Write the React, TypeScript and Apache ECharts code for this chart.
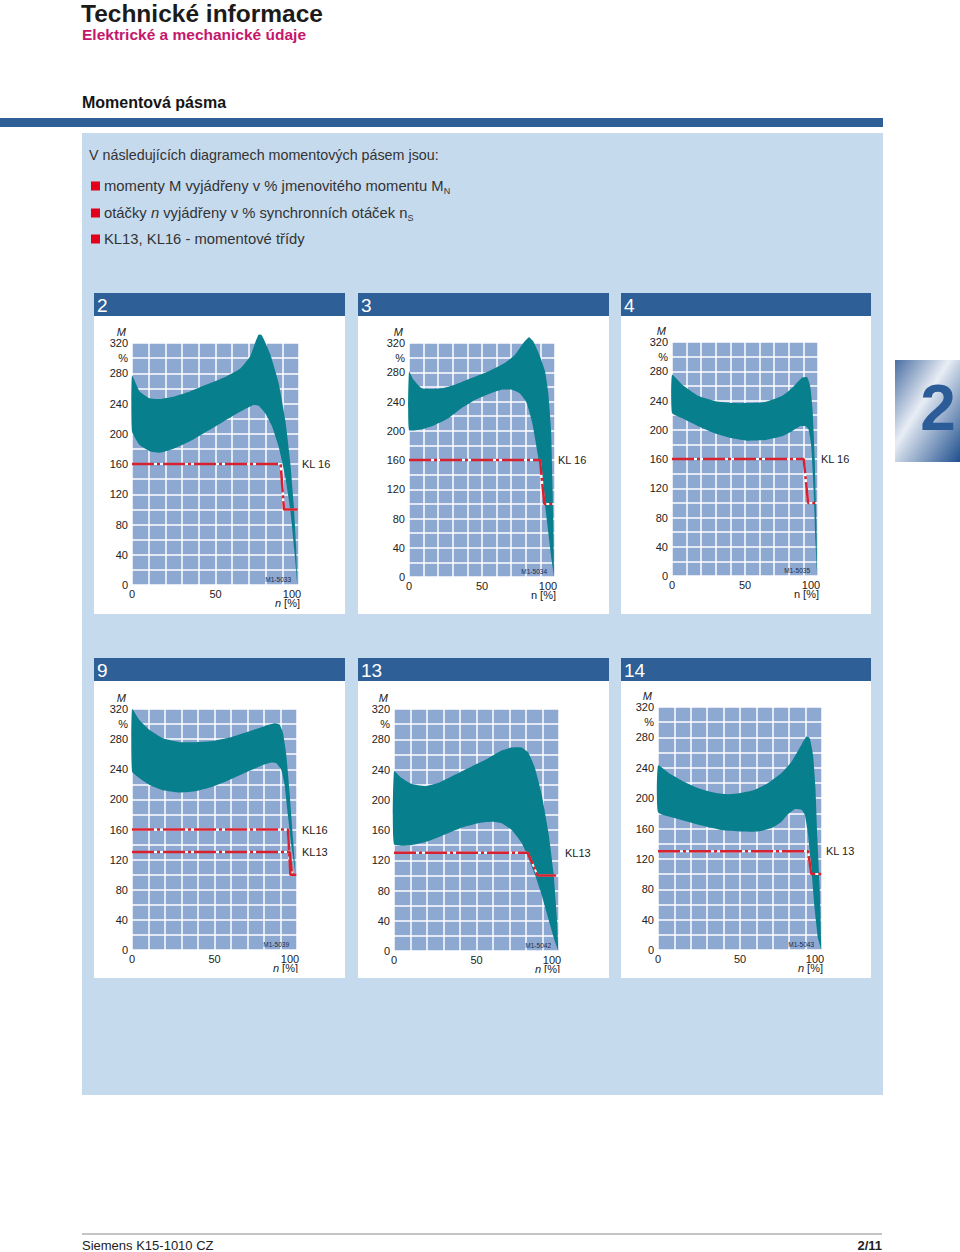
import React, { useEffect, useRef } from "react";
import * as echarts from "echarts";

const FONT = "'Liberation Sans', Arial, Helvetica, sans-serif";
const TEAL = "#087f8d";
const RED = "#d8202f";
const PLOT_BG = "#8da8d1";
const DARK_BLUE = "#2e5f96";
const LIGHT_BLUE = "#c6daee";
const TEXT = "#222222";

// ---- texts ----
const pageTitle = "Technické informace";
const pageSubtitle = "Elektrické a mechanické údaje";
const sectionTitle = "Momentová pásma";
const introLine = "V následujících diagramech momentových pásem jsou:";
const bulletLines = [
  "momenty M vyjádřeny v % jmenovitého momentu M{sub|N}",
  "otáčky {i|n} vyjádřeny v % synchronních otáček n{sub|S}",
  "KL13, KL16 - momentové třídy",
];
const footerLeft = "Siemens K15-1010 CZ";
const footerRight = "2/11";
const chapterNo = "2";

// ---- axis ticks ----
const yTickLabels = [0, 40, 80, 120, 160, 200, 240, 280, 320];
const yUnitAt = 300;
const xTickLabels = [0, 50, 100];

// ---- curves: [n %, M %] ----
const c2Upper = [[0,277],[4.6,256],[10.6,247],[16.6,246],[24.6,249],[34.7,256],[44.7,265],[54.7,274],[64.7,286],[70.7,302],[73.7,320],[75.8,331],[77.8,330],[82.8,305],[87.8,267],[91.8,218],[94.8,161],[96.8,108],[98.2,55],[99,0]];
const c2Lower = [[0,203],[4.6,185],[10.6,177],[16.6,175],[24.6,180],[34.7,190],[44.7,203],[54.7,216],[64.7,229],[72.7,238],[75.8,237],[79.8,227],[83.8,210],[87.8,183],[91.8,143],[94.8,99],[97.2,46],[99,0]];
const c2KL16 = [[0,160],[89,160],[91,100],[100,100]];

const c3Upper = [[0,281],[3,270],[8.7,258],[15.5,257],[22.4,258],[31.5,263],[42.9,272],[54.3,281],[65.8,293],[72.6,304],[78.3,320],[82.2,328],[85.2,322],[89.7,302],[93.2,281],[95.4,251],[97.3,201],[98.4,119],[99.1,37],[99.3,0]];
const c3Lower = [[0,201],[8.7,202],[17.8,208],[26.9,217],[36.1,231],[45.2,242],[54.3,250],[63.5,256],[70.3,256],[76,251],[80.6,238],[84.5,210],[88.1,169],[91.3,128],[94.7,73],[97.7,23],[99.3,0]];
const c3KL16 = [[0,160],[89.7,160],[92.7,100],[100,100]];

const c4Upper = [[0,275],[6.8,262],[18.3,246],[29.7,239],[41.1,236.5],[52.5,236.5],[63.9,238],[75.3,246],[82.2,257],[89,271],[92.5,272],[94.7,259],[96.3,227],[97.7,163],[98.9,72],[99.5,0]];
const c4Lower = [[0,223],[6.8,216],[18.3,204.5],[29.7,195],[41.1,188.5],[52.5,185],[63.9,186],[75.3,191],[82.2,198],[87.9,205],[91.3,205],[93.6,200],[95.4,177],[97,118],[98.2,49],[99.5,0]];
const c4KL16 = [[0,160],[90.2,160],[93.2,100],[100,100]];

const c9Upper = [[0,320],[4.6,305],[10.7,292],[18.8,281],[28.9,276],[39,276],[49.1,277.5],[59.2,282],[69.3,289],[79.4,296.5],[86.5,301],[89.5,299],[91.5,288],[93.5,259],[95.6,206],[97.6,148],[99.2,100]];
const c9Lower = [[0,237],[4.6,228],[10.7,219],[18.8,212],[28.9,209],[39,211],[49.1,217],[59.2,226],[69.3,236],[79.4,245.6],[84.4,249],[87.5,248],[90.5,239],[92.5,219],[94.5,179],[96.6,139],[99.2,100]];
const c9KL16 = [[0,160],[94.5,160],[96,100],[99.6,100]];
const c9KL13 = [[0,130],[95.6,130],[97,100],[99.6,100]];

const c13Upper = [[0,238],[4.5,229],[10.5,221],[18.6,218],[26.7,222],[36.8,233],[47,244],[57.1,255],[65.2,265],[71.3,269],[77.3,269],[81.4,262],[85.4,242],[89.5,207],[93.5,158],[96.6,105],[98.6,48],[99.6,0]];
const c13Lower = [[0,141],[10.5,140],[20.6,145],[30.8,154],[40.9,163],[51,169],[59.1,171],[65.2,169],[71.3,160],[77.3,143],[81.4,123],[85.4,101],[89.5,74],[93.5,43],[97.6,12],[99.6,0]];
const c13KL13 = [[0,130],[81,130],[87,100],[100,100]];

const c14Upper = [[0,243],[6.5,233],[14.6,223],[24.7,213],[34.8,207],[42.9,205],[51,207],[59.1,211],[67.2,220],[75.3,233],[81.4,248],[87.4,270],[90.5,281],[92.5,279],[94.5,257],[96,213],[97.2,147],[98.6,81],[99.6,0]];
const c14Lower = [[0,181.5],[10.5,173.6],[24.7,165],[38.9,158],[51,156],[61.1,156],[69.2,160.5],[75.3,169],[79.4,179],[83.4,185.5],[87.4,184.6],[89.5,178],[91.5,152],[93.5,108],[95.5,55],[97.6,15],[99.6,0]];
const c14KL13 = [[0,130],[91.5,130],[93.5,100],[100,100]];

const chartNumbers = ["2", "3", "4", "9", "13", "14"];
const chartCodes = ["M1-5033", "M1-5034", "M1-5035", "M1-5039", "M1-5042", "M1-5043"];
const chartItalicN = [true, false, false, true, true, true];
const chartUpper = [c2Upper, c3Upper, c4Upper, c9Upper, c13Upper, c14Upper];
const chartLower = [c2Lower, c3Lower, c4Lower, c9Lower, c13Lower, c14Lower];
const chartKL = [
  [{ name: "KL 16", level: 160, line: c2KL16 }],
  [{ name: "KL 16", level: 160, line: c3KL16 }],
  [{ name: "KL 16", level: 160, line: c4KL16 }],
  [{ name: "KL16", level: 160, line: c9KL16 }, { name: "KL13", level: 130, line: c9KL13 }],
  [{ name: "KL13", level: 130, line: c13KL13 }],
  [{ name: "KL 13", level: 130, line: c14KL13 }],
];

// ---- layout (pixels) ----
const layout = [
  { px: 94, py: 293, pw: 251, ph: 321, gl: 132, gt: 343, gw: 167, gh: 242, klGap: 3 },
  { px: 358, py: 293, pw: 251, ph: 321, gl: 409, gt: 343, gw: 146, gh: 234, klGap: 3 },
  { px: 621, py: 293, pw: 250, ph: 321, gl: 672, gt: 342, gw: 146, gh: 234, klGap: 3 },
  { px: 94, py: 658, pw: 251, ph: 320, gl: 132, gt: 709, gw: 165, gh: 241, klGap: 5 },
  { px: 358, py: 658, pw: 251, ph: 320, gl: 394, gt: 709, gw: 165, gh: 242, klGap: 6 },
  { px: 621, py: 658, pw: 250, ph: 320, gl: 658, gt: 707, gw: 164, gh: 243, klGap: 4 },
];

function txt(x: number, y: number, text: string, style: any, z = 5) {
  return {
    type: "text",
    x,
    y,
    z,
    silent: true,
    style: {
      text,
      fill: TEXT,
      fontFamily: FONT,
      fontSize: 12,
      textAlign: "left",
      textVerticalAlign: "middle",
      ...style,
    },
  };
}

function buildOption() {
  const grids: any[] = [];
  const xAxes: any[] = [];
  const yAxes: any[] = [];
  const series: any[] = [];
  const g: any[] = [];

  // page decoration
  g.push(txt(81, 13, pageTitle, { fontSize: 24.5, fontWeight: "bold", fill: "#1b1b1b" }));
  g.push(txt(82, 34.5, pageSubtitle, { fontSize: 15.5, fontWeight: "bold", fill: "#c4176c" }));
  g.push(txt(82, 102, sectionTitle, { fontSize: 16, fontWeight: "bold", fill: "#151515" }));
  g.push({ type: "rect", z: -10, silent: true, shape: { x: 0, y: 118, width: 883, height: 9 }, style: { fill: DARK_BLUE } });
  g.push({ type: "rect", z: -10, silent: true, shape: { x: 82, y: 133, width: 801, height: 962 }, style: { fill: LIGHT_BLUE } });
  g.push(txt(89, 155, introLine, { fontSize: 14.3, fill: "#333" }));
  const bulletY = [186, 213, 239];
  bulletLines.forEach((t, i) => {
    g.push({ type: "rect", z: 5, silent: true, shape: { x: 91, y: bulletY[i] - 4.5, width: 9, height: 9 }, style: { fill: "#e3001b" } });
    g.push(
      txt(104, bulletY[i], t, {
        fontSize: 14.8,
        fill: "#333",
        rich: {
          sub: { fontSize: 9, fill: "#333", fontFamily: FONT, padding: [9, 0, 0, 0] },
          i: { fontSize: 14.8, fill: "#333", fontFamily: FONT, fontStyle: "italic" },
        },
      })
    );
  });

  // chapter tab on the right
  g.push({
    type: "rect",
    z: -10,
    silent: true,
    shape: { x: 895, y: 360, width: 65, height: 102 },
    style: {
      fill: new echarts.graphic.LinearGradient(0, 0, 1, 1, [
        { offset: 0, color: "#4a6ea3" },
        { offset: 0.42, color: "#e9eef5" },
        { offset: 0.5, color: "#c9d5e5" },
        { offset: 1, color: "#1f4f8e" },
      ]),
    },
  });
  g.push(txt(938, 408, chapterNo, { fontSize: 64, fontWeight: "bold", fill: "#2b5c97", textAlign: "center" }));

  // footer
  g.push({ type: "line", z: 5, silent: true, shape: { x1: 82, y1: 1234, x2: 882, y2: 1234 }, style: { stroke: "#8a8a8a", lineWidth: 1 } });
  g.push(txt(82, 1245, footerLeft, { fontSize: 13, fill: "#222" }));
  g.push(txt(882, 1245, footerRight, { fontSize: 13, fontWeight: "bold", fill: "#222", textAlign: "right" }));

  chartNumbers.forEach((num, i) => {
    const L = layout[i];
    // panels
    g.push({ type: "rect", z: -10, silent: true, shape: { x: L.px, y: L.py, width: L.pw, height: 23 }, style: { fill: DARK_BLUE } });
    g.push({ type: "rect", z: -10, silent: true, shape: { x: L.px, y: L.py + 23, width: L.pw, height: L.ph - 23 }, style: { fill: "#ffffff" } });
    g.push(txt(L.px + 3, L.py + 12, num, { fontSize: 19, fill: "#ffffff" }));

    grids.push({ left: L.gl, top: L.gt, width: L.gw, height: L.gh, show: true, backgroundColor: PLOT_BG, borderWidth: 0 });
    xAxes.push({
      gridIndex: i,
      type: "value",
      min: 0,
      max: 100,
      interval: 10,
      axisLine: { show: false },
      axisTick: { show: false },
      splitLine: { show: true, lineStyle: { color: "#ffffff", width: 1.5 } },
      axisLabel: {
        margin: 3,
        fontSize: 11,
        color: TEXT,
        fontFamily: FONT,
        formatter: (v: number) => (v === 100 ? "{r|100}" : xTickLabels.includes(v) ? String(v) : ""),
        rich: { r: { fontSize: 11, color: TEXT, fontFamily: FONT, padding: [0, 14, 0, 0] } },
      },
    });
    yAxes.push({
      gridIndex: i,
      type: "value",
      min: 0,
      max: 320,
      interval: 20,
      axisLine: { show: false },
      axisTick: { show: false },
      splitLine: { show: true, lineStyle: { color: "#ffffff", width: 1.5 } },
      axisLabel: {
        margin: 4,
        fontSize: 11,
        color: TEXT,
        fontFamily: FONT,
        formatter: (v: number) => (v === yUnitAt ? "%" : yTickLabels.includes(v) ? String(v) : ""),
      },
      name: "M",
      nameLocation: "end",
      nameGap: 3,
      nameTextStyle: { fontStyle: "italic", fontSize: 11, color: TEXT, fontFamily: FONT, align: "right", padding: [0, 6, 0, 0] },
    });

    // torque band
    const poly = [...chartUpper[i], ...chartLower[i].slice().reverse()];
    series.push({
      type: "custom",
      xAxisIndex: i,
      yAxisIndex: i,
      data: poly,
      clip: false,
      silent: true,
      z: 2,
      renderItem: (params: any, api: any) => {
        if (params.dataIndex !== 0) return { type: "group", children: [] };
        const pts = poly.map((p) => api.coord(p));
        return { type: "polygon", shape: { points: pts, smooth: 0.15 }, style: { fill: TEAL } };
      },
    });

    // torque class lines
    chartKL[i].forEach((kl) => {
      series.push({
        type: "line",
        xAxisIndex: i,
        yAxisIndex: i,
        data: kl.line,
        symbol: "none",
        silent: true,
        z: 3,
        lineStyle: { color: "#ffffff", width: 2 },
      });
      series.push({
        type: "line",
        xAxisIndex: i,
        yAxisIndex: i,
        data: kl.line,
        symbol: "none",
        silent: true,
        z: 4,
        lineStyle: { color: RED, width: 2.5, type: [22, 3, 3, 3] },
        markPoint: {
          symbol: "circle",
          symbolSize: 0,
          silent: true,
          label: { show: true, position: "right", distance: L.klGap, formatter: kl.name, color: TEXT, fontSize: 11, fontFamily: FONT },
          data: [{ coord: [100, kl.level] }],
        },
      });
    });

    // n [%] and drawing code
    const nText = chartItalicN[i] ? "{i|n} [%]" : "n [%]";
    g.push(
      txt(L.gl + L.gw + 1, L.gt + L.gh + 18, nText, {
        fontSize: 11,
        textAlign: "right",
        rich: { i: { fontSize: 11, fontStyle: "italic", fill: TEXT, fontFamily: FONT } },
      }, 6)
    );
    g.push(txt(L.gl + L.gw - 8, L.gt + L.gh - 6, chartCodes[i], { fontSize: 6.5, fill: "#1d2a44", textAlign: "right" }, 6));
  });

  // scan clipping of the lower panels' bottom text
  [3, 4].forEach((i) => {
    const L = layout[i];
    g.push({ type: "rect", z: 50, silent: true, shape: { x: L.px, y: L.py + L.ph - 5, width: L.pw, height: 5 }, style: { fill: "#ffffff" } });
  });

  return {
    animation: false,
    backgroundColor: "#ffffff",
    grid: grids,
    xAxis: xAxes,
    yAxis: yAxes,
    series,
    graphic: { elements: g },
  };
}

export default function App() {
  const ref = useRef<HTMLDivElement>(null);
  useEffect(() => {
    if (!ref.current) return;
    const chart = echarts.init(ref.current, null, { renderer: "svg" });
    chart.setOption(buildOption() as any);
    return () => chart.dispose();
  }, []);
  return (
    <div
      ref={ref}
      style={{ position: "absolute", left: 0, top: 0, width: 960, height: 1252, background: "#fff" }}
    />
  );
}
